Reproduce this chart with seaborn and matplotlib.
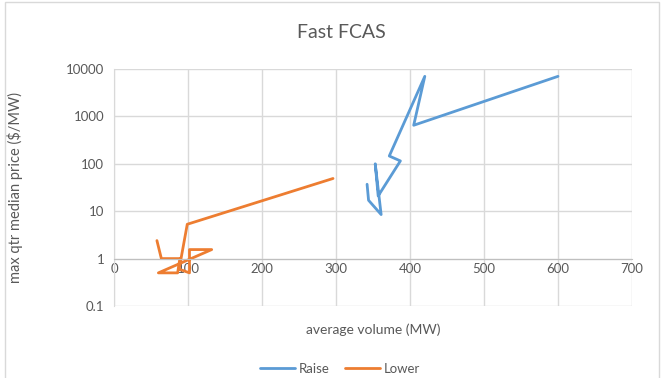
import numpy as np
import pandas as pd
import matplotlib
matplotlib.use("Agg")
import matplotlib.pyplot as plt
import matplotlib.ticker as mticker
import seaborn as sns

# Data (volume MW, max quarterly median price $/MW)
raise_volume = [342, 344, 361, 353, 357, 387, 372, 420, 405, 600]
raise_price = [37, 17, 8.5, 100, 21, 115, 146, 7000, 650, 7000]
lower_volume = [58, 64, 89, 86, 60, 132, 102, 102, 88, 99, 296]
lower_price = [2.4, 1.0, 1.0, 0.5, 0.5, 1.55, 1.55, 0.5, 0.6, 5.3, 49]

x_ticks = [0, 100, 200, 300, 400, 500, 600, 700]
y_ticks = [0.1, 1, 10, 100, 1000, 10000]
y_tick_labels = ["0.1", "1", "10", "100", "1000", "10000"]

df = pd.concat([
    pd.DataFrame({"volume": raise_volume, "price": raise_price, "series": "Raise"}),
    pd.DataFrame({"volume": lower_volume, "price": lower_price, "series": "Lower"}),
], ignore_index=True)

sns.set_style("white")
plt.rcParams["font.family"] = ["Lato", "DejaVu Sans"]

grey_text = "#595959"
grid_col = "#d9d9d9"

fig = plt.figure(figsize=(6.62, 3.78), dpi=100)
ax = fig.add_axes([114 / 662, 1 - 306 / 378, (632 - 114) / 662, (306 - 69) / 378])

sns.lineplot(data=df, x="volume", y="price", hue="series", sort=False,
             estimator=None, palette={"Raise": "#5B9BD5", "Lower": "#ED7D31"},
             linewidth=2, ax=ax, legend=False)

ax.set_yscale("log")
ax.set_xlim(0, 700)
ax.set_ylim(0.1, 10000)
ax.set_xticks(x_ticks)
ax.set_yticks(y_ticks)
ax.yaxis.set_major_formatter(mticker.FixedFormatter(y_tick_labels))
ax.yaxis.set_minor_locator(mticker.NullLocator())
ax.grid(True, color=grid_col, linewidth=1)
ax.set_axisbelow(True)

for s in ["top", "right"]:
    ax.spines[s].set_visible(False)
ax.spines["left"].set_color(grid_col)
ax.spines["bottom"].set_color("#bfbfbf")
ax.spines["bottom"].set_position(("data", 1))
ax.tick_params(length=0, labelsize=9.5, labelcolor=grey_text)
ax.tick_params(axis="x", pad=3)
ax.tick_params(axis="y", pad=7)

ax.set_xlabel("average volume (MW)", fontsize=10, color=grey_text)
ax.xaxis.set_label_coords(0.5, -0.072)
ax.set_ylabel("max qtr median price ($/MW)", fontsize=10.5, color=grey_text)
ax.yaxis.set_label_coords(-0.176, 0.5)

fig.text(341 / 662, 1 - 33 / 378, "Fast FCAS", fontsize=14, color=grey_text,
         ha="center", va="center")

handles = [plt.Line2D([], [], color="#5B9BD5", lw=2),
           plt.Line2D([], [], color="#ED7D31", lw=2)]
fig.legend(handles, ["Raise", "Lower"], loc="center", ncol=2, frameon=False,
           bbox_to_anchor=(340 / 662, 1 - 369 / 378), fontsize=9.5,
           handlelength=2.6, handletextpad=0.3, columnspacing=1.2,
           labelcolor=grey_text)

fig.patches.append(plt.Rectangle((5 / 662, -0.01), 654 / 662, 1.006,
                                 transform=fig.transFigure, fill=False,
                                 edgecolor=grid_col, linewidth=1))

fig.savefig("out.png", dpi=100)
